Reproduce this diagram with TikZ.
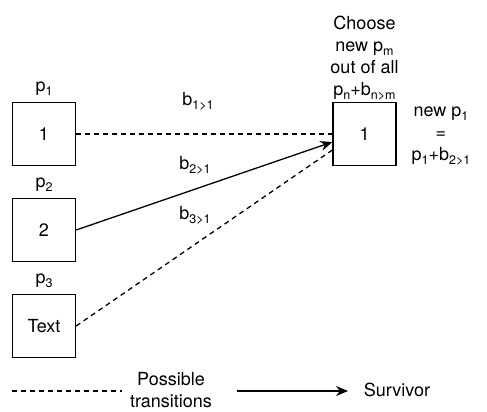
\documentclass[tikz,border=0pt]{standalone}
\usepackage{fontspec}
\setmainfont{TeX Gyre Heros}
\usetikzlibrary{arrows.meta,positioning,calc}
\newcommand{\lowi}[1]{\raisebox{-4pt}{\fontsize{12.5}{14}\selectfont #1}}

\begin{document}
\begin{tikzpicture}[x=1pt,y=-1pt,>={Stealth[length=12pt,width=10pt]},
  every node/.style={font=\fontsize{18}{22}\selectfont},
  cell/.style={draw,line width=1.3pt,minimum size=63pt,inner sep=0pt},
  trans/.style={line width=1.3pt,dash pattern=on 5pt off 4pt},
  surv/.style={line width=1.3pt,->}]
\useasboundingbox (0,0) rectangle (487,412);

% source states with their p labels
\foreach \i/\txt in {1/1,2/2,3/Text} {
  \node[cell] (src\i) at (44,134+96*\i-96) {\txt};
  \node (plab\i) at (44,89+96*\i-96) {p\lowi{\i}};
}

% chosen state
\node[cell] (dest) at (364.5,134) {1};
\node[align=center,anchor=south,inner sep=1pt] (choose) at (dest.north)
  {Choose\\new p\lowi{m}\\out of all\\p\lowi{n}+b\lowi{n>m}};
\node[align=center] (newp) at (441,136) {new p\lowi{1}\\=\\p\lowi{1}+b\lowi{2>1}};

\coordinate (in2) at ($(dest.west)+(0,8)$);
\coordinate (in3) at ($(dest.west)+(0,16)$);

\draw[trans] (src1.east) -- (dest.west);
\draw[surv] (src2.east) -- (in2);
\draw[trans] (src3.east) -- (in3);

\node (b1) at (198,101) {b\lowi{1>1}};
\node (b2) at (195,165) {b\lowi{2>1}};
\node (b3) at (195,215) {b\lowi{3>1}};

% legend
\coordinate (dasha) at (12,391);
\coordinate (dashb) at (122,391);
\coordinate (arra) at (237,391);
\coordinate (arrb) at (348,391);
\draw[trans] (dasha) -- (dashb);
\node[align=center] (possible) at (171,390) {Possible\\transitions};
\draw[surv] (arra) -- (arrb);
\node (survivor) at (397,390) {Survivor};
\end{tikzpicture}
\end{document}
